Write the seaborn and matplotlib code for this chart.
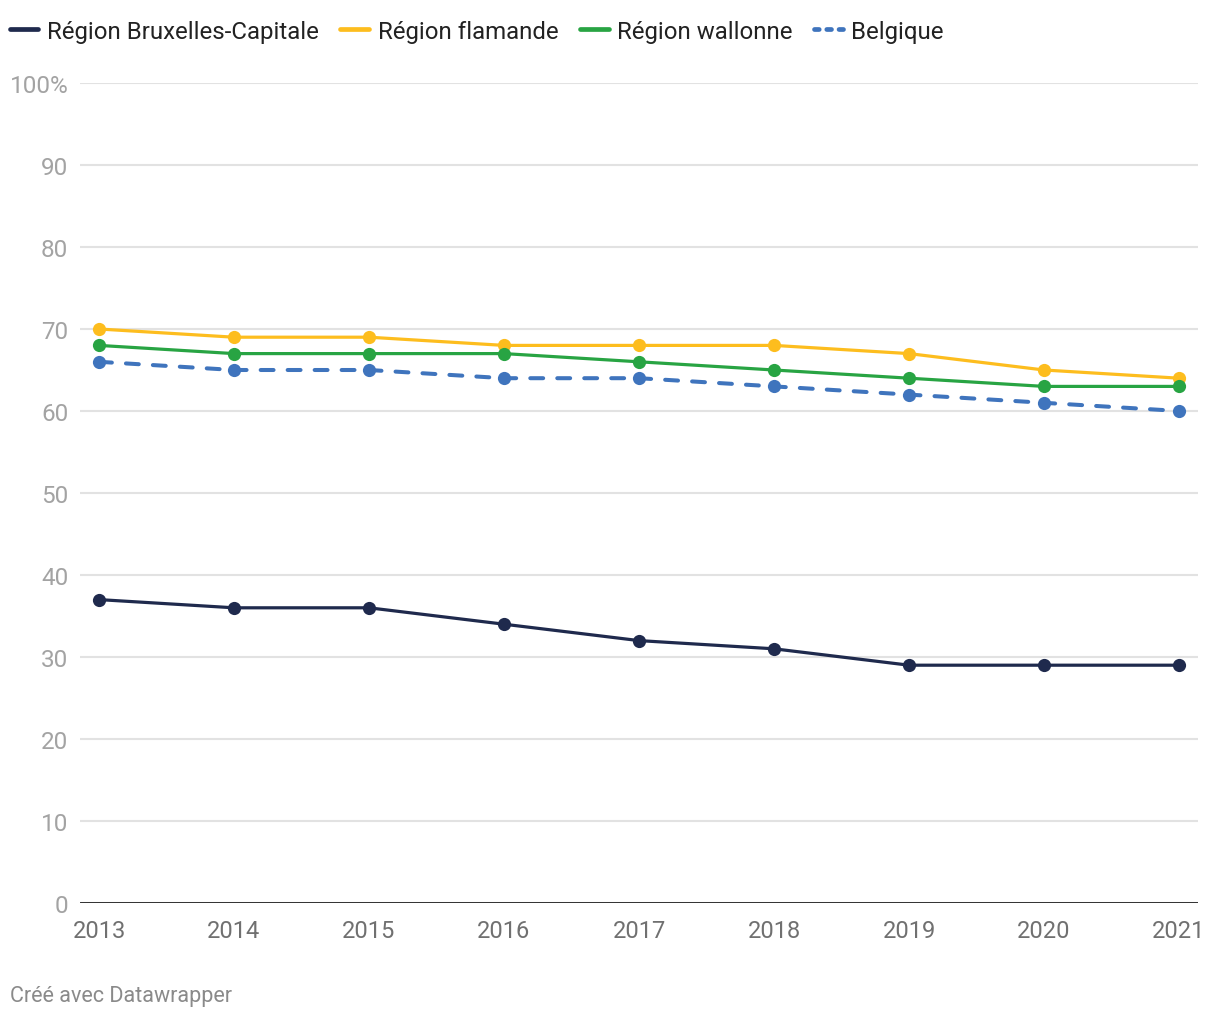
"""Part de la population (2013-2021) par région, style Datawrapper."""

import matplotlib

matplotlib.use("Agg")
import matplotlib.pyplot as plt  # noqa: E402
import pandas as pd  # noqa: E402
import seaborn as sns  # noqa: E402
from matplotlib.lines import Line2D  # noqa: E402

YEARS = [2013, 2014, 2015, 2016, 2017, 2018, 2019, 2020, 2021]
BRUXELLES = [37, 36, 36, 34, 32, 31, 29, 29, 29]
FLAMANDE = [70, 69, 69, 68, 68, 68, 67, 65, 64]
WALLONNE = [68, 67, 67, 67, 66, 65, 64, 63, 63]
BELGIQUE = [66, 65, 65, 64, 64, 63, 62, 61, 60]

SERIES_NAMES = [
    "Région Bruxelles-Capitale",
    "Région flamande",
    "Région wallonne",
    "Belgique",
]
Y_TICKS = [0, 10, 20, 30, 40, 50, 60, 70, 80, 90, 100]
Y_TICK_LABELS = ["0", "10", "20", "30", "40", "50", "60", "70", "80", "90", "100%"]

_COLORS = {
    "Région Bruxelles-Capitale": "#1f2a4d",
    "Région flamande": "#fdbd1e",
    "Région wallonne": "#28a443",
    "Belgique": "#3f74bd",
}
_DASHED = {"Belgique"}


def build_frame() -> pd.DataFrame:
    values = [BRUXELLES, FLAMANDE, WALLONNE, BELGIQUE]
    rows = []
    for name, series in zip(SERIES_NAMES, values):
        for year, value in zip(YEARS, series):
            rows.append({"year": year, "value": value, "region": name})
    return pd.DataFrame(rows)


def main() -> None:
    sns.set_theme(style="white")
    plt.rcParams["font.family"] = ["Roboto", "DejaVu Sans"]

    frame = build_frame()
    fig = plt.figure(figsize=(12.2, 10.2), dpi=100)
    ax = fig.add_axes([80 / 1220, 116 / 1020, 1118 / 1220, 820 / 1020])

    for name in SERIES_NAMES:
        sub = frame[frame["region"] == name]
        color = _COLORS[name]
        dashed = name in _DASHED
        sns.lineplot(
            data=sub,
            x="year",
            y="value",
            color=color,
            linewidth=2.9 if dashed else 2.3,
            marker="o",
            markersize=9.5,
            markeredgewidth=0,
            dashes=False,
            ax=ax,
            zorder=3,
        )
        line = ax.get_lines()[-1]
        if dashed:
            line.set_dashes((3.2, 3.5))
            line.set_dash_capstyle("round")

    ax.set_xlim(2013 - 19 / 135, 2021 + 19 / 135)
    ax.set_ylim(0, 100)
    ax.set_yticks(Y_TICKS)
    ax.set_yticklabels(Y_TICK_LABELS)
    ax.set_xticks(YEARS)
    ax.set_xticklabels([str(y) for y in YEARS])
    ax.set_xlabel("")
    ax.set_ylabel("")

    for spine in ax.spines.values():
        spine.set_visible(False)
    ax.grid(axis="y", color="#e2e2e2", linewidth=1.5, zorder=0)
    ax.grid(axis="x", visible=False)
    ax.axhline(0, color="#222222", linewidth=2, zorder=2)

    ax.tick_params(axis="y", length=0, pad=8.5, labelsize=17.5, labelcolor="#a3a3a3")
    ax.tick_params(axis="x", length=0, pad=11.5, labelsize=17, labelcolor="#707070")

    handles = []
    for name in SERIES_NAMES:
        ls = (0, (1.0, 1.6)) if name in _DASHED else "-"
        handles.append(
            Line2D([], [], color=_COLORS[name], linewidth=3.4, linestyle=ls,
                   solid_capstyle="round", dash_capstyle="round")
        )
    fig.legend(
        handles,
        SERIES_NAMES,
        loc="upper left",
        bbox_to_anchor=(0.0, 1 - 11 / 1020),
        ncol=4,
        frameon=False,
        fontsize=17.3,
        handlelength=1.2,
        handletextpad=0.35,
        columnspacing=0.9,
        borderaxespad=0.0,
        labelcolor="#222222",
    )

    fig.text(10 / 1220, 1 - 997 / 1020, "Créé avec Datawrapper", fontsize=15.5,
             color="#8a8a8a", va="center", ha="left")

    fig.savefig("out.png", dpi=100)
    plt.close(fig)


if __name__ == "__main__":
    main()
